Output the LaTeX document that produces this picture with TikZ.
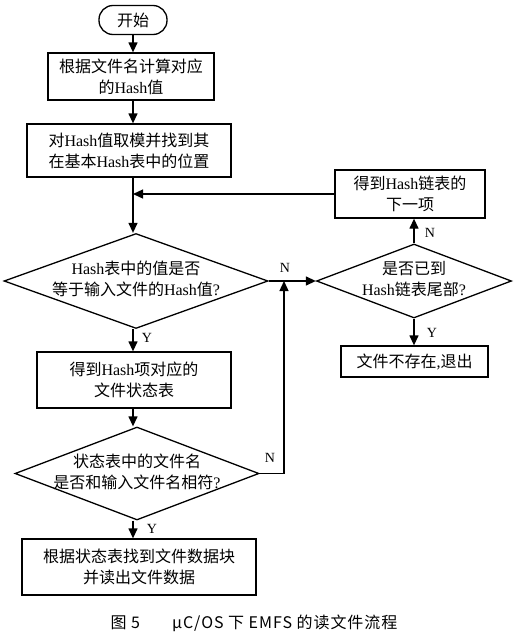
\documentclass[tikz,border=0pt]{standalone}
\usepackage{fontspec}
\setmainfont{Liberation Serif}
\newfontfamily\zh{Noto Sans CJK SC}
\newfontfamily\zhcap[LetterSpace=6]{Noto Sans CJK SC}
\usetikzlibrary{shapes,arrows.meta}
\newcommand{\dtext}[1]{\makebox[0pt]{\begin{tabular}{@{}c@{}}#1\end{tabular}}}

\begin{document}
\begin{tikzpicture}[x=1pt,y=-1pt]
\tikzset{every node/.style={font=\fontsize{16}{21}\selectfont}}
\tikzset{block/.style={draw,line width=1.3pt,align=center,inner sep=0pt}}
\tikzset{decision/.style={diamond,draw,line width=1.3pt,inner sep=0pt,aspect=2.5}}
\tikzset{arr/.style={line width=1.3pt,-{Triangle[length=10pt,width=9pt]}}}
\tikzset{tag/.style={font=\fontsize{14}{16}\selectfont,inner sep=0pt}}
\useasboundingbox (0,0) rectangle (519,640);
% main column
\node[block,rounded corners=14pt,minimum width=68pt,minimum height=29pt] (start) at (133,20) {\zh 开始};
\node[block,minimum width=166pt,minimum height=47pt] (hashval) at (131,76.5) {{\zh 根据文件名计算对应}\\{\zh 的}Hash{\zh 值}};
\node[block,minimum width=204pt,minimum height=53pt] (modpos) at (129,150.5) {{\zh 对}Hash{\zh 值取模并找到其}\\{\zh 在基本}Hash{\zh 表中的位置}};
\node[decision,minimum width=264pt,minimum height=95pt] (eqhash) at (136,281) {\dtext{Hash{\zh 表中的值是否}\\{\zh 等于输入文件的}Hash{\zh 值}?}};
\node[block,minimum width=194pt,minimum height=56pt] (statetab) at (134,380) {{\zh 得到}Hash{\zh 项对应的}\\{\zh 文件状态表}};
\node[decision,minimum width=244pt,minimum height=93pt] (eqname) at (137,473.5) {\dtext{{\zh 状态表中的文件名}\\{\zh 是否和输入文件名相符}?}};
\node[block,minimum width=234pt,minimum height=56pt] (readdata) at (139,567) {{\zh 根据状态表找到文件数据块}\\{\zh 并读出文件数据}};
% right column
\node[decision,minimum width=195pt,minimum height=74pt] (chainend) at (414,281) {\dtext{{\zh 是否已到}\\Hash{\zh 链表尾部}?}};
\node[block,minimum width=150pt,minimum height=48pt] (nextitem) at (410,194) {{\zh 得到}Hash{\zh 链表的}\\{\zh 下一项}};
\node[block,minimum width=147pt,minimum height=31pt] (notfound) at (414.5,361.5) {{\zh 文件不存在},{\zh 退出}};
\coordinate (join) at (284,281);
% connectors
\draw[arr] (start.south) -- (start.south |- hashval.north);
\draw[arr] (hashval.south -| start) -- (start |- modpos.north);
\draw[arr] (modpos.south -| start) -- (start |- eqhash.north);
\draw[arr] (eqhash.south -| start) -- (start |- statetab.north);
\draw[arr] (statetab.south -| start) -- (start |- eqname.north);
\draw[arr] (eqname.south -| start) -- (start |- readdata.north);
\draw[arr] (eqhash.east) -- (chainend.west);
\draw[arr] (eqname.east) -| (join);
\draw[arr] (chainend.north) -- (chainend.north |- nextitem.south);
\draw[arr] (chainend.south) -- (chainend.south |- notfound.north);
\draw[arr] (nextitem.west) -- (nextitem.west -| start);
% labels
\node[tag] (ylab1) at (147,338) {Y};
\node[tag] (nlab1) at (285,268) {N};
\node[tag] (ylab2) at (152,529) {Y};
\node[tag] (nlab2) at (270,458) {N};
\node[tag] (nlab3) at (430,233) {N};
\node[tag] (ylab3) at (432,333) {Y};
\node[font=\zhcap\fontsize{16}{18}\selectfont] (caption) at (254,623) {图 5\qquad μC/OS 下 EMFS 的读文件流程};
\end{tikzpicture}
\end{document}
